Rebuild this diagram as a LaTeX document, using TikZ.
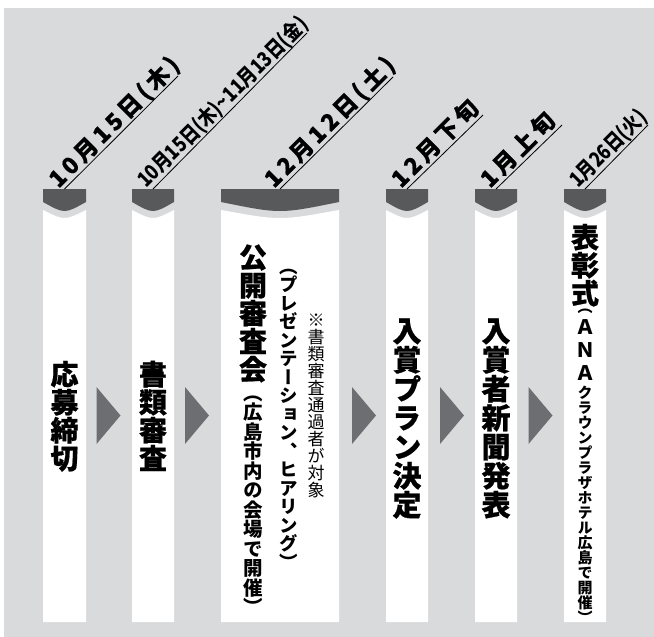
\documentclass[tikz,border=0pt]{standalone}
\usepackage{fontspec}
\usetikzlibrary{calc}
\newfontfamily\jpv{Noto Sans CJK JP}[RawFeature=+vert]
\newfontfamily\jpvb{Noto Sans CJK JP}[RawFeature=+vert,BoldFeatures={FakeBold=0.7}]
\newfontfamily\jph{Noto Sans CJK JP}
\newfontfamily\jpd{Noto Sans CJK JP}[LetterSpace=16,BoldFeatures={FakeBold=0.5}]
\definecolor{bgc}{RGB}{217,218,220}
\definecolor{capc}{RGB}{88,89,91}
\definecolor{arrc}{RGB}{109,110,113}
\makeatletter
\newdimen\vtw \vtw=30pt
\def\vtend{\vtend}
\newcommand\vt[1]{\vt@loop#1\vtend}
\def\vt@loop#1{\ifx\vtend#1\else\hbox to\vtw{\hss\vrule height .88em depth .12em width 0pt\relax#1\hss}\expandafter\vt@loop\fi}
\newcommand\vo[1]{\hbox to\vtw{\hss\vrule height .5em depth 0pt width 0pt\raise.12em\hbox{\smash{#1}}\hss}}
\newcommand\vc[1]{\hbox to\vtw{\hss\vrule height .5em depth 0pt width 0pt\lower.38em\hbox{\smash{#1}}\hss}}
\newcommand\vcol[1]{\vbox{\offinterlineskip#1}}
\newcommand\fsz[1]{\fontsize{#1}{#1}\selectfont}
\makeatother
\begin{document}
\begin{tikzpicture}[x=1pt,y=-1pt,
  colbody/.style={fill=white},
  capshape/.style={fill=capc},
  arrowshape/.style={fill=arrc},
  dateline/.style={draw=black,line width=0.8pt},
  datebig/.style={font={\jpd\bfseries\fsz{23pt}},rotate=45,anchor=base west,inner sep=0pt},
  datesmall/.style={font={\jph\bfseries\fsz{21pt}},rotate=45,anchor=base west,inner sep=0pt},
  vlabel/.style={inner sep=0pt,anchor=north,font={\jpvb\bfseries\fsz{28pt}}},
  vsmall/.style={inner sep=0pt,anchor=north,font={\jpv\bfseries\fsz{18.5pt}}},
  vnote/.style={inner sep=0pt,anchor=north,font={\jpv\fsz{17pt}}}
]
\useasboundingbox (0,0) rectangle (654,637);
\fill[bgc] (4,8) rectangle (654,637);
% columns
\foreach \l/\r [count=\i] in {43/86,132/174,221/339,386/428,475/517,564/606}{
  \fill[colbody] (\l,210) .. controls ({(\l+\r)/2},220.7) .. (\r,210) -- (\r,622) -- (\l,622) -- cycle;
  \fill[capshape] (\l,189) -- (\r,189) -- (\r,202) .. controls ({(\l+\r)/2},214) .. (\l,202) -- cycle;
  \coordinate (top\i) at ({(\l+\r)/2},189);
}
% arrows
\foreach \c in {108.5,197,364,452,540.5}{
  \fill[arrowshape] (\c-12,387) -- (\c+12,415.5) -- (\c-12,444) -- cycle;
}
% date lines
\coordinate (e1) at (178,76);
\coordinate (e2) at (307,33);
\coordinate (e3) at (393,77);
\coordinate (e4) at (483,115);
\coordinate (e5) at (562,125);
\coordinate (e6) at (648,125);
\foreach \i in {1,...,6}{ \draw[dateline] (top\i) -- (e\i); }
% dates
\node[datebig] (d1) at ($(top1)+(-6,0)$) {10月15日(木)};
\node[datesmall] (d2) at ($(top2)+(-7,0)$) {\scalebox{0.84}[1]{10月15日(木)\textasciitilde{}11月13日(金)}};
\node[datebig] (d3) at ($(top3)+(-6,0)$) {12月12日(土)};
\node[datebig] (d4) at ($(top4)+(-6,0)$) {12月下旬};
\node[datebig] (d5) at ($(top5)+(-6,0)$) {1月上旬};
\node[datesmall] (d6) at ($(top6)+(-7,0)$) {\scalebox{0.84}[1]{1月26日(火)}};
% column texts
\node[vlabel] (c1) at (64.5,360) {\vcol{\vt{応募締切}}};
\node[vlabel] (c2) at (153,360) {\vcol{\vt{書類審査}}};
\node[vlabel] (c3) at (253,243) {\vcol{\vt{公開審査会}\fsz{19.5pt}\jpv\bfseries\vt{（広島市内の会場で開催）}}};
\node[vsmall] (c3b) at (289,266) {\vcol{\vo{（}\vt{プレゼンテーション、ヒアリング}\vc{）}}};
\node[vnote] (c3c) at (316,311) {\vcol{\vt{※書類審査通過者が対象}}};
\node[vlabel,font={\jpvb\bfseries\fsz{29pt}}] (c4) at (407,316) {\vcol{\vt{入賞プラン決定}}};
\node[vlabel,font={\jpvb\bfseries\fsz{29pt}}] (c5) at (496,316) {\vcol{\vt{入賞者新聞発表}}};
\node[vlabel] (c6) at (585,223) {\vcol{\vt{表彰式}\jpv\bfseries\fsz{15pt}\vo{（}\vskip2pt\fsz{20pt}\vt{Ａ}\vskip3pt\vt{Ｎ}\vskip3pt\vt{Ａ}\vskip3pt\fsz{15pt}\vt{クラウンプラザホテル広島で開催}\vc{）}}};
\end{tikzpicture}
\end{document}
